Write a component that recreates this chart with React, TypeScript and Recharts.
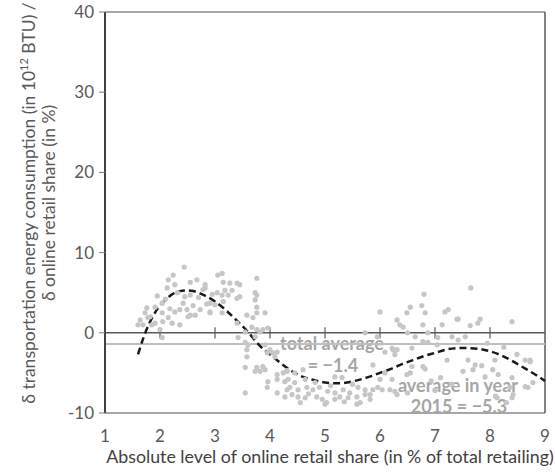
import {
  ComposedChart,
  Scatter,
  Line,
  XAxis,
  YAxis,
  ReferenceLine,
  Customized,
} from "recharts";

const xTicks = [1, 2, 3, 4, 5, 6, 7, 8, 9];
const yTicks = [-10, 0, 10, 20, 30, 40];
const totalAverage = -1.4;

// polynomial trend
const curveX = [1.6, 1.7, 1.8, 1.9, 2.0, 2.2, 2.4, 2.6, 2.8, 3.0, 3.2, 3.4, 3.6, 3.8, 4.0, 4.2, 4.4, 4.6, 4.8, 5.0, 5.2, 5.4, 5.6, 5.8, 6.0, 6.2, 6.4, 6.6, 6.8, 7.0, 7.2, 7.4, 7.6, 7.8, 8.0, 8.2, 8.4, 8.6, 8.8, 9.0];
const curveY = [-2.7, -0.6, 1.1, 2.4, 3.4, 4.7, 5.25, 5.2, 4.7, 3.9, 2.8, 1.5, 0.1, -1.5, -2.7, -3.8, -4.8, -5.5, -5.9, -6.2, -6.3, -6.2, -5.9, -5.5, -5.0, -4.5, -3.9, -3.4, -2.9, -2.5, -2.1, -1.9, -1.9, -2.0, -2.3, -2.8, -3.5, -4.3, -5.1, -6.0];

// observations, grouped roughly by online share
const ptsLow: [number, number][] = [
  [2.44, 8.2], [2.15, 6.6], [2.24, 7.2], [2.55, 6.3], [2.67, 6.6], [2.82, 6.0], [2.13, 5.6], [2.27, 6.0],
  [1.95, 4.6], [2.45, 4.5], [2.55, 4.7], [1.76, 3.1], [1.91, 3.2], [2.04, 3.7], [2.42, 3.7], [2.49, 2.9],
  [1.73, 2.5], [2.04, 2.5], [2.27, 2.6], [2.36, 2.9], [1.64, 1.6], [1.78, 1.9], [2.15, 1.9], [2.51, 2.0],
  [2.64, 2.2], [1.6, 1.0], [1.91, 1.2], [2.05, 1.4], [2.22, 1.2], [1.69, 1.0], [1.85, 1.0], [2.36, 1.0],
  [2.0, 0.4], [2.04, -0.6], [2.55, 2.2], [2.73, 2.9], [2.91, 2.5], [2.1, 4.2], [2.32, 5.0], [2.6, 3.4],
  [2.7, 4.4], [2.85, 3.6], [1.82, 2.0], [2.18, 3.0], [2.95, 4.8], [2.78, 5.4],
];
const ptsMid: [number, number][] = [
  [3.05, 7.2], [3.13, 7.4], [3.76, 6.8], [3.15, 6.3], [3.27, 6.2], [3.4, 6.2], [3.45, 6.0], [2.82, 5.6],
  [3.04, 5.0], [3.18, 5.3], [3.31, 5.3], [3.13, 4.7], [3.24, 4.7], [3.4, 4.3], [3.45, 4.5], [3.76, 4.7],
  [3.73, 4.1], [2.91, 3.7], [3.0, 3.5], [3.15, 3.9], [3.76, 3.2], [2.91, 2.6], [3.13, 2.5], [3.58, 2.2],
  [3.91, 2.5], [3.69, 1.9], [3.4, 1.2], [3.67, 0.7], [3.76, 0.4], [3.87, 0.4], [3.96, 0.6], [3.55, 0.1],
  [3.82, 0.1], [3.42, -0.6], [3.73, -0.5], [3.55, -1.2], [3.6, -1.5], [3.58, -2.1], [3.91, -1.5], [4.0, -2.1],
  [3.58, -3.0], [4.13, -2.4], [4.09, -3.0], [3.55, -4.3], [3.73, -4.8], [3.82, -4.8], [3.91, -4.6], [4.13, -5.2],
  [4.24, -5.0], [4.31, -4.8], [3.96, -6.1], [4.13, -5.8], [4.27, -6.1], [3.95, -6.8], [4.31, -7.1], [4.13, -7.5],
  [4.27, -8.0], [3.55, -7.5], [3.95, -2.5], [4.05, -2.5], [3.76, -4.3], [3.87, -4.2], [3.73, 5.0], [3.76, 2.5],
];
const ptsHigh: [number, number][] = [
  [5.87, -4.0], [5.18, -5.5], [5.31, -5.6], [4.33, -5.8], [4.45, -6.2], [4.64, -5.8], [4.82, -6.2], [4.36, -6.8],
  [4.51, -7.1], [4.67, -6.8], [4.78, -7.1], [5.05, -7.3], [5.18, -7.5], [5.33, -7.1], [5.45, -7.5], [5.6, -6.8],
  [5.73, -7.1], [5.87, -7.1], [4.51, -8.0], [4.64, -8.1], [4.85, -8.0], [4.95, -8.3], [5.18, -8.3], [5.27, -8.0],
  [5.42, -8.1], [5.58, -8.0], [5.73, -7.7], [5.82, -8.3], [5.0, -8.9], [5.58, -8.9], [4.31, -4.7], [4.45, -5.0],
  [4.6, -4.6], [4.55, -8.7], [5.03, -8.7], [5.64, -8.7], [5.73, 0.0], [5.82, -7.7], [6.04, -7.1], [4.9, -6.8],
  [5.1, -6.6], [5.5, -6.4], [4.7, -7.6], [5.35, -8.6], [4.4, -7.7],
  [6.0, 2.6], [6.49, 2.5], [6.31, 1.6], [6.42, 0.7], [6.8, 4.8], [6.55, 3.2], [6.76, 3.4], [6.82, 2.5],
  [7.18, 2.6], [7.24, 2.9], [7.4, 1.7], [6.36, 1.0], [6.78, 1.0], [7.13, 1.0], [6.5, 0.0], [6.87, 0.0],
  [5.95, -0.5], [6.64, -0.5], [7.05, -0.6], [7.31, -0.5], [6.78, -1.1], [6.87, -1.2], [7.04, -1.5], [6.22, -1.9],
  [6.31, -2.1], [6.58, -1.9], [6.27, -2.7], [7.22, -3.4], [6.58, -4.2], [6.78, -4.2], [6.82, -4.5], [6.09, -5.0],
  [6.49, -5.2], [6.55, -5.0], [6.0, -5.8], [6.22, -5.8], [5.96, -6.8], [6.18, -7.1], [6.27, -7.3], [6.31, -7.7],
  [6.5, -7.5], [6.09, -2.4], [6.24, -2.1], [6.93, -6.0], [7.1, -5.6], [7.3, -6.4], [7.0, -7.2],
];
const ptsTop: [number, number][] = [
  [7.65, 5.6], [7.42, 1.7], [7.64, 0.9], [7.78, 1.2], [7.82, 1.7], [8.4, 1.4], [7.42, -0.9], [7.6, -3.4],
  [7.73, -4.0], [7.85, -4.1], [8.09, -3.4], [8.49, -2.7], [8.64, -3.4], [8.73, -3.6], [7.51, -4.8], [7.69, -4.6],
  [8.05, -4.6], [8.15, -5.2], [7.91, -5.5], [8.4, -5.6], [8.78, -6.2], [8.69, -6.8], [8.64, -6.7], [8.36, -6.8],
  [8.42, -7.7], [8.13, -8.1], [8.4, -8.1], [8.3, -8.7], [8.1, -7.9], [8.73, -3.4], [7.55, -0.5], [7.95, -1.3],
  [8.25, -1.8],
];

const curveData = curveX.map((x, i) => ({ x, y: curveY[i] }));
const scatterData = [...ptsLow, ...ptsMid, ...ptsHigh, ...ptsTop].map(([x, y]) => ({ x, y }));

const FONT = "Lato, 'Open Sans', sans-serif";
const annoStyle = { fontSize: 18, fontWeight: 700, fill: "#a6a6a6", fontFamily: FONT };

function Texts() {
  return (
    <g fontFamily={FONT}>
      <g transform="translate(0,203) rotate(-90)">
        <text textAnchor="middle" fontSize={17.5} fill="#595959">
          <tspan x={0} y={35}>
            δ transportation energy consumption (in 10
            <tspan dy={-7} fontSize={11}>12</tspan>
            <tspan dy={7}> BTU) /</tspan>
          </tspan>
          <tspan x={0} y={55}>δ online retail share (in %)</tspan>
        </text>
      </g>
      <text x={330} y={463} textAnchor="middle" fontSize={17.8} fill="#404040">
        Absolute level of online retail share (in % of total retailing)
      </text>
      <text x={332} y={350} textAnchor="middle" {...annoStyle}>total average</text>
      <text x={333} y={372} textAnchor="middle" {...annoStyle}>= −1.4</text>
      <text x={458} y={392} textAnchor="middle" {...annoStyle}>average in year</text>
      <text x={459} y={413} textAnchor="middle" {...annoStyle}>2015 = −5.3</text>
    </g>
  );
}

export default function App() {
  return (
    <div style={{ position: "absolute", left: 0, top: 0, background: "#fff" }}>
      <ComposedChart width={555} height={472} margin={{ top: 12, right: 10, bottom: 29, left: 0 }}>
        <XAxis
          type="number"
          dataKey="x"
          domain={[1, 9]}
          ticks={xTicks}
          height={30}
          axisLine={false}
          tickLine={false}
          tickSize={0}
          tickMargin={17}
          tick={{ fontSize: 17, fill: "#595959", fontFamily: FONT }}
        />
        <YAxis
          type="number"
          dataKey="y"
          domain={[-10, 40]}
          ticks={yTicks}
          width={105}
          axisLine={{ stroke: "#404040", strokeWidth: 2 }}
          tickLine={{ stroke: "#7f7f7f" }}
          tickSize={6}
          tickMargin={5}
          tick={{ fontSize: 17, fill: "#595959", fontFamily: FONT }}
        />
        <ReferenceLine y={40} stroke="#a6a6a6" strokeWidth={2} />
        <ReferenceLine y={-10} stroke="#a6a6a6" strokeWidth={2} />
        <ReferenceLine x={9} stroke="#595959" strokeWidth={1.5} />
        <Scatter
          data={scatterData}
          dataKey="y"
          fill="#c6c6c6"
          isAnimationActive={false}
          shape={(p: any) => <circle cx={p.cx} cy={p.cy} r={2.6} fill="#c6c6c6" />}
        />
        <ReferenceLine y={totalAverage} stroke="#bfbfbf" strokeWidth={2} />
        <ReferenceLine y={0} stroke="#595959" strokeWidth={1.5} />
        {xTicks.slice(1, -1).map((t) => (
          <ReferenceLine
            key={t}
            segment={[{ x: t, y: -0.7 }, { x: t, y: 0.7 }]}
            stroke="#595959"
            strokeWidth={1.2}
          />
        ))}
        <Line
          data={curveData}
          dataKey="y"
          type="natural"
          stroke="#1a1a1a"
          strokeWidth={2.5}
          strokeDasharray="7 4"
          dot={false}
          isAnimationActive={false}
        />
        <Customized component={Texts} />
      </ComposedChart>
    </div>
  );
}
